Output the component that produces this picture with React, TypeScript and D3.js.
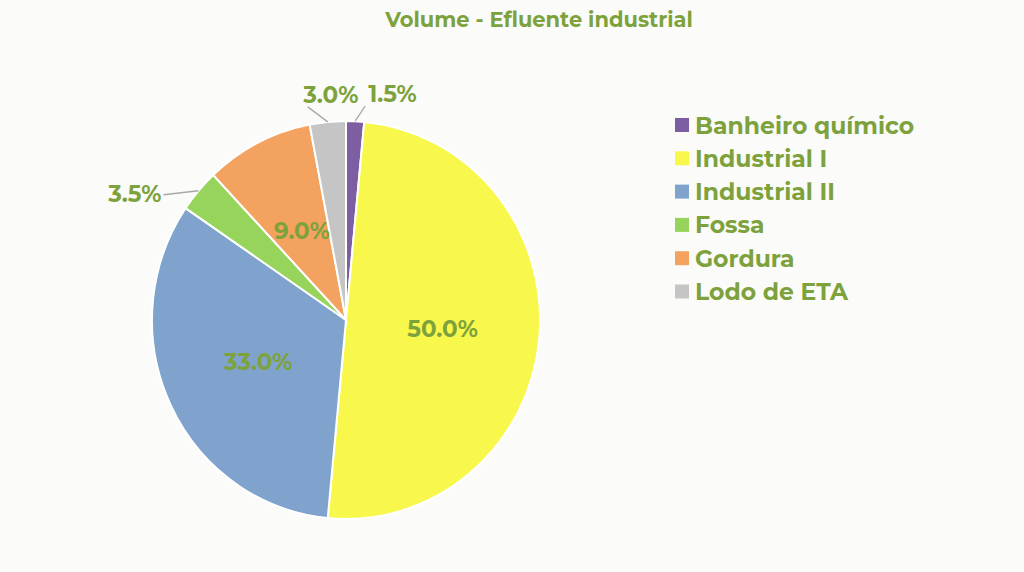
import React, { useEffect } from "react";
import * as d3 from "d3";

const categories = ["Banheiro químico", "Industrial I", "Industrial II", "Fossa", "Gordura", "Lodo de ETA"];
const values = [1.5, 50.0, 33.0, 3.5, 9.0, 3.0];
const colors = ["#7E5EA2", "#F8F84C", "#7FA3CD", "#97D45C", "#F4A25F", "#C5C5C5"];
const title = "Volume - Efluente industrial";

const W = 1024, H = 572;
const cx = 346, cy = 320, rx = 194, ry = 199;
const TEXT = "#7DA23C";
const FONT = "Montserrat, 'Open Sans', Lato, sans-serif";

export default function App() {
  useEffect(() => {
    document.body.style.margin = "0";
  }, []);
  const pie = d3.pie<number>().sort(null).value((d) => d)(values);
  const arc = d3.arc<d3.PieArcDatum<number>>().innerRadius(0).outerRadius(rx);

  const outside: Record<number, { lx: number; ly: number; tx: number; ty: number; anchor: string }> = {
    0: { lx: 10, ly: -15, tx: 3, ty: -12, anchor: "start" },
    5: { lx: -20, ly: -15, tx: 23, ty: -12, anchor: "middle" },
    3: { lx: -35, ly: 4, tx: -2, ty: -1, anchor: "end" },
  };

  return (
    <svg width={W} height={H} style={{ display: "block", background: "#FBFBF9", fontFamily: FONT }}>
      <rect width={W} height={H} fill="#FBFBF9" />
      <text x={539} y={27} textAnchor="middle" fontSize={21} fontWeight={700} fill={TEXT}>
        {title}
      </text>
      <g transform={`translate(${cx},${cy}) scale(1,${ry / rx})`}>
        {pie.map((p, i) => (
          <path key={i} d={arc(p) || ""} fill={colors[i]} stroke="#FFFFFF" strokeWidth={2} vectorEffect="non-scaling-stroke" />
        ))}
      </g>
      {pie.map((p, i) => {
        const mid = (p.startAngle + p.endAngle) / 2;
        const sx = Math.sin(mid), sy = -Math.cos(mid);
        const label = values[i].toFixed(1) + "%";
        if (outside[i]) {
          const o = outside[i];
          const ex = cx + sx * rx, ey = cy + sy * ry;
          const lx = ex + o.lx, ly = ey + o.ly;
          return (
            <g key={i}>
              <line x1={ex} y1={ey} x2={lx} y2={ly} stroke="#A8A8A8" strokeWidth={1.3} />
              <text x={lx + o.tx} y={ly + o.ty} textAnchor={o.anchor} dominantBaseline="central" fontSize={23} fontWeight={700} fill={TEXT}>
                {label}
              </text>
            </g>
          );
        }
        const d = 0.5 * rx;
        return (
          <text key={i} x={cx + sx * d} y={cy + sy * d * (ry / rx)} textAnchor="middle" dominantBaseline="central" fontSize={23} fontWeight={700} fill={TEXT}>
            {label}
          </text>
        );
      })}
      <g transform="translate(675,125)">
        {categories.map((c, i) => (
          <g key={c} transform={`translate(0,${i * 33.3})`}>
            <rect x={0} y={-7} width={14} height={14} fill={colors[i]} />
            <text x={20} y={0} dominantBaseline="central" fontSize={23.5} fontWeight={700} fill={TEXT}>
              {c}
            </text>
          </g>
        ))}
      </g>
    </svg>
  );
}
